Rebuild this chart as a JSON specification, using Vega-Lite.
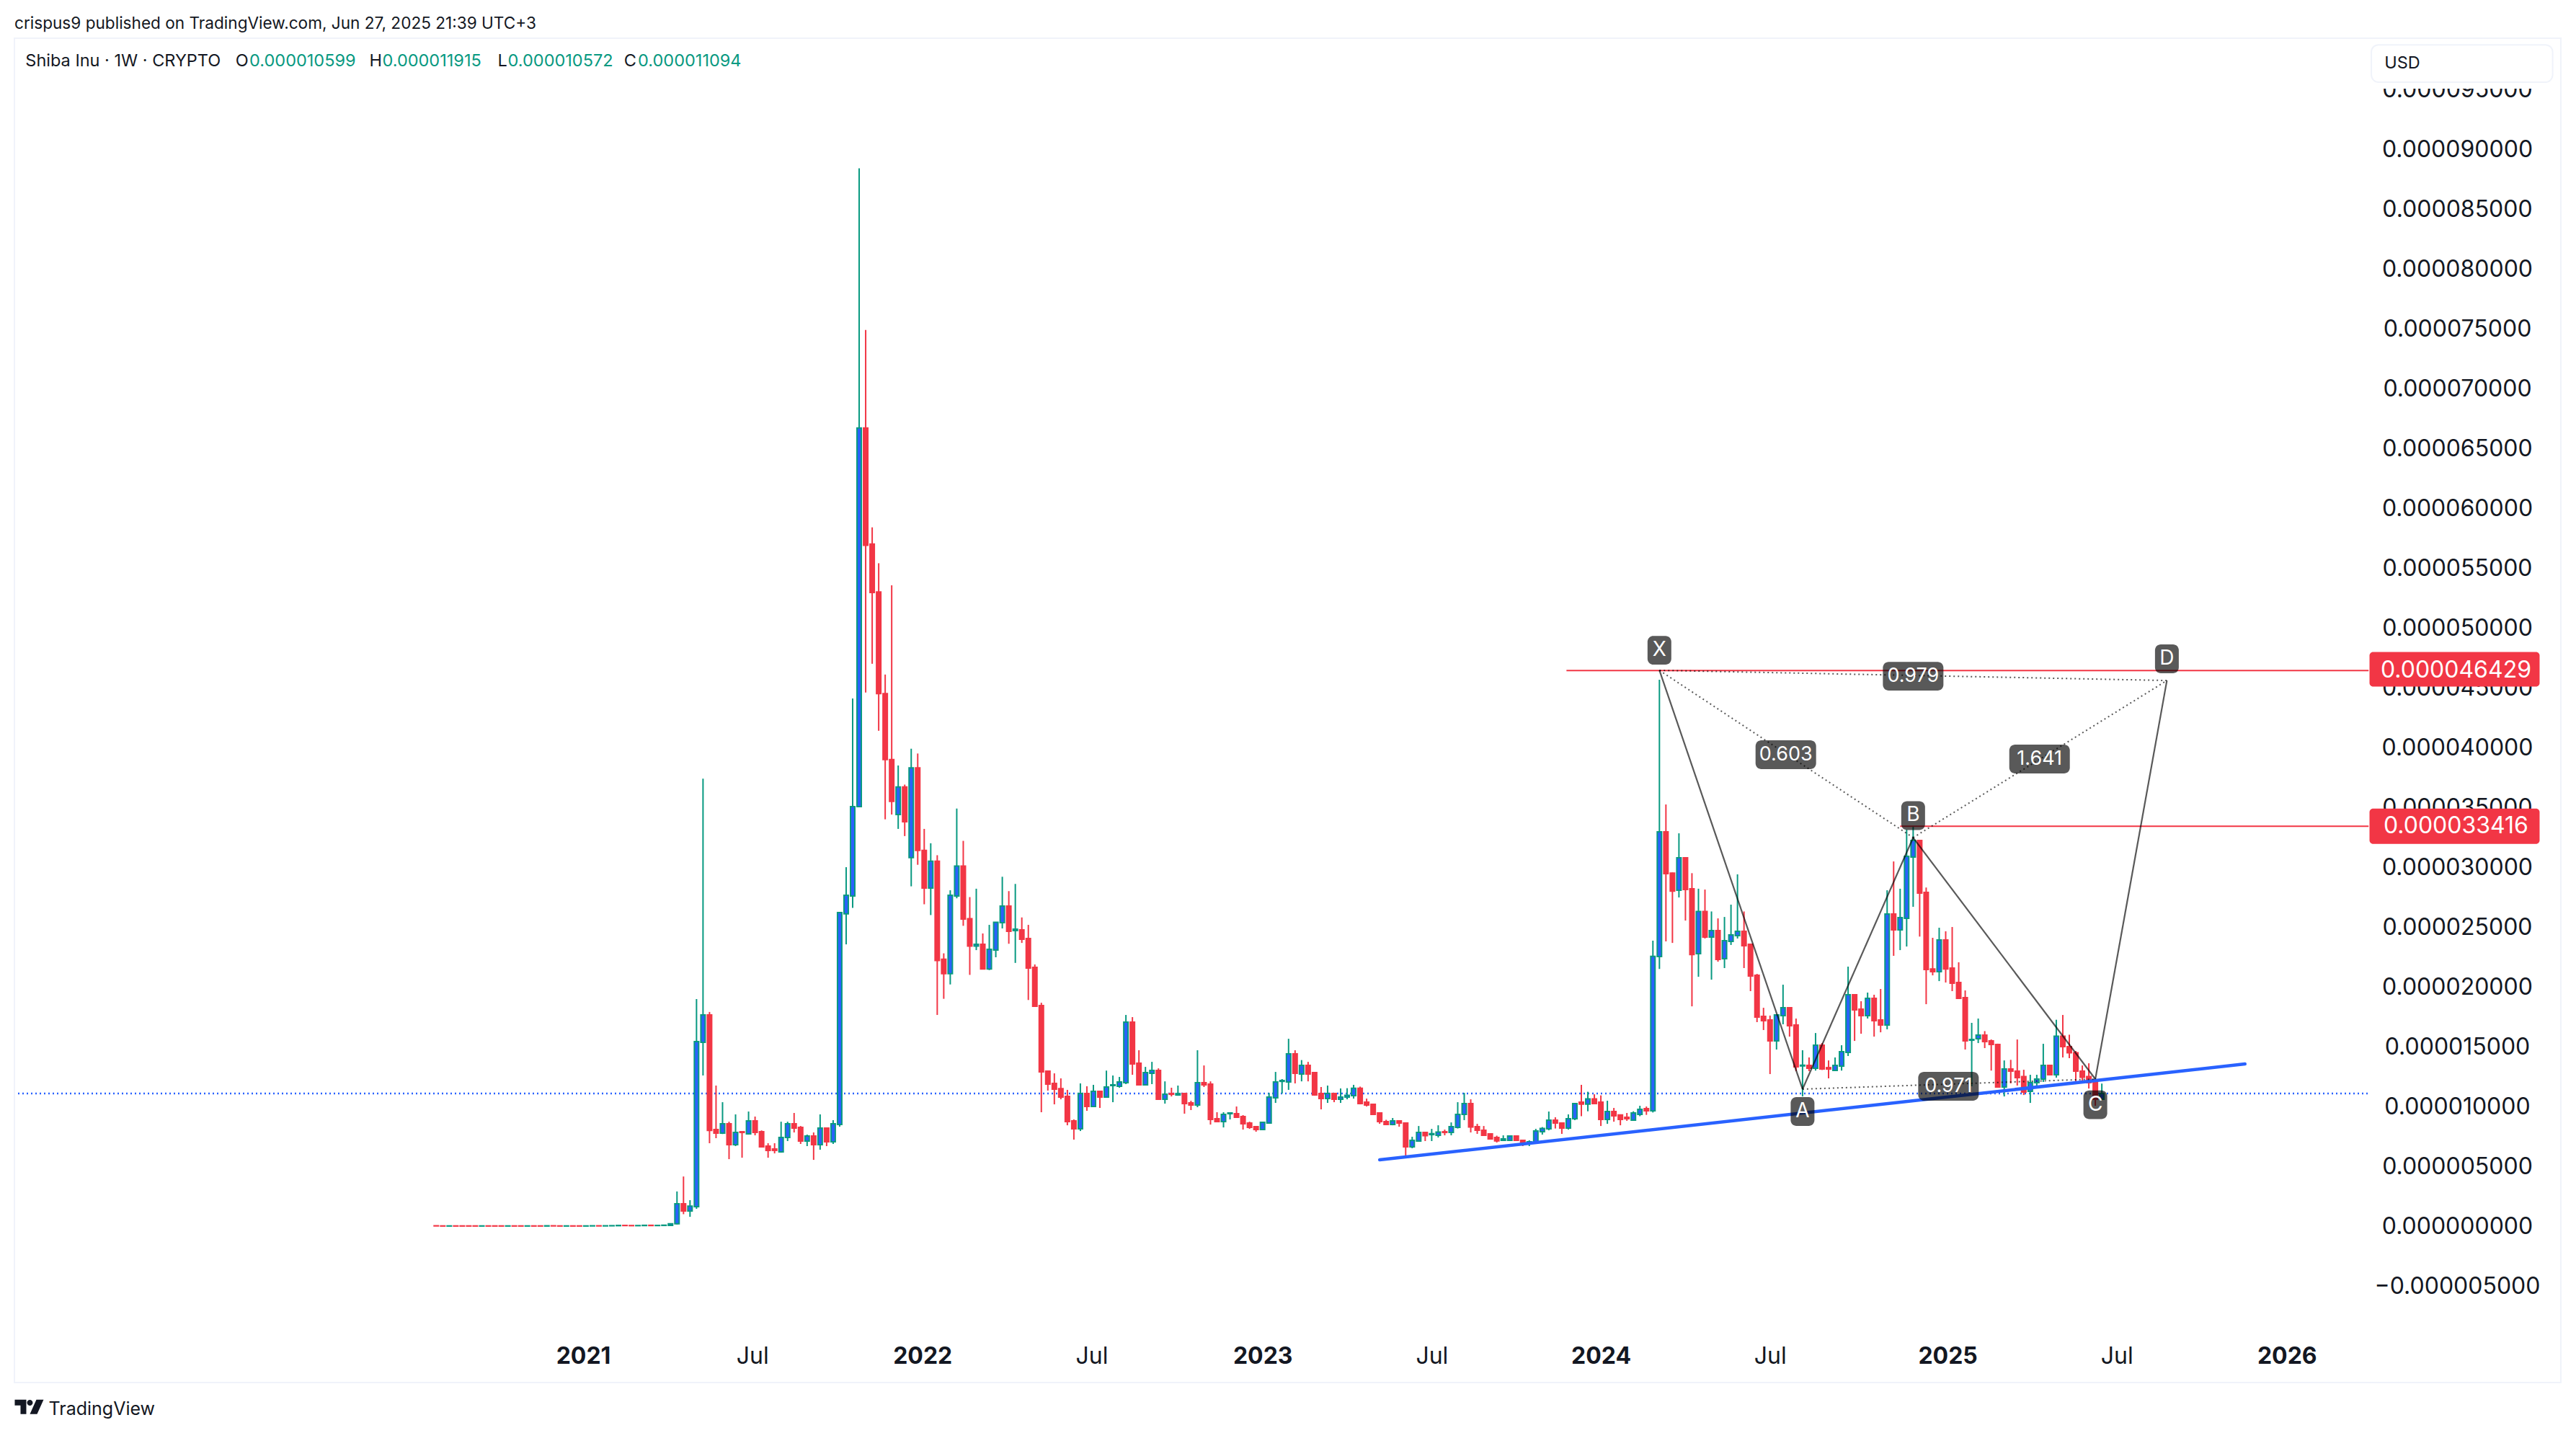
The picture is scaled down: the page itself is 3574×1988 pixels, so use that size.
{"$schema":"https://vega.github.io/schema/vega-lite/v6.json","width":3533,"height":1865,"autosize":{"type":"none"},"padding":{"left":20,"top":53,"right":21,"bottom":70},"background":"white","view":{"stroke":"#F0F3FA","strokeWidth":2},"config":{"font":"Inter"},
"title":{"text":"crispus9 published on TradingView.com, Jun 27, 2025 21:39 UTC+3","anchor":"start","frame":"group","font":"Inter","fontSize":22.6,"fontWeight":"normal","color":"#131722","offset":8},
"datasets":{
"candles":[
{"date":"2020-07-27","open":0.03e-6,"high":0.04e-6,"low":0.02e-6,"close":0.02e-6},
{"date":"2020-08-03","open":0.02e-6,"high":0.03e-6,"low":0.01e-6,"close":0.01e-6},
{"date":"2020-08-10","open":0.01e-6,"high":0.03e-6,"low":0.01e-6,"close":0.02e-6},
{"date":"2020-08-17","open":0.02e-6,"high":0.03e-6,"low":0.01e-6,"close":0.01e-6},
{"date":"2020-08-24","open":0.02e-6,"high":0.03e-6,"low":0.01e-6,"close":0.01e-6},
{"date":"2020-08-31","open":0.02e-6,"high":0.03e-6,"low":0.01e-6,"close":0.01e-6},
{"date":"2020-09-07","open":0.02e-6,"high":0.03e-6,"low":0.01e-6,"close":0.01e-6},
{"date":"2020-09-14","open":0.01e-6,"high":0.03e-6,"low":0.01e-6,"close":0.02e-6},
{"date":"2020-09-21","open":0.02e-6,"high":0.03e-6,"low":0.01e-6,"close":0.01e-6},
{"date":"2020-09-28","open":0.02e-6,"high":0.03e-6,"low":0.01e-6,"close":0.01e-6},
{"date":"2020-10-05","open":0.02e-6,"high":0.03e-6,"low":0.01e-6,"close":0.01e-6},
{"date":"2020-10-12","open":0.01e-6,"high":0.03e-6,"low":0.01e-6,"close":0.02e-6},
{"date":"2020-10-19","open":0.02e-6,"high":0.03e-6,"low":0.01e-6,"close":0.01e-6},
{"date":"2020-10-26","open":0.02e-6,"high":0.03e-6,"low":0.01e-6,"close":0.01e-6},
{"date":"2020-11-02","open":0.01e-6,"high":0.03e-6,"low":0.01e-6,"close":0.02e-6},
{"date":"2020-11-09","open":0.02e-6,"high":0.03e-6,"low":0.01e-6,"close":0.01e-6},
{"date":"2020-11-16","open":0.02e-6,"high":0.03e-6,"low":0.01e-6,"close":0.01e-6},
{"date":"2020-11-23","open":0.01e-6,"high":0.04e-6,"low":0.01e-6,"close":0.03e-6},
{"date":"2020-11-30","open":0.03e-6,"high":0.04e-6,"low":0.01e-6,"close":0.02e-6},
{"date":"2020-12-07","open":0.02e-6,"high":0.03e-6,"low":0.01e-6,"close":0.01e-6},
{"date":"2020-12-14","open":0.01e-6,"high":0.03e-6,"low":0.01e-6,"close":0.02e-6},
{"date":"2020-12-21","open":0.02e-6,"high":0.03e-6,"low":0.01e-6,"close":0.01e-6},
{"date":"2020-12-28","open":0.02e-6,"high":0.03e-6,"low":0.01e-6,"close":0.01e-6},
{"date":"2021-01-04","open":0.01e-6,"high":0.03e-6,"low":0.01e-6,"close":0.02e-6},
{"date":"2021-01-11","open":0.02e-6,"high":0.04e-6,"low":0.01e-6,"close":0.03e-6},
{"date":"2021-01-18","open":0.03e-6,"high":0.04e-6,"low":0.01e-6,"close":0.02e-6},
{"date":"2021-01-25","open":0.02e-6,"high":0.04e-6,"low":0.01e-6,"close":0.03e-6},
{"date":"2021-02-01","open":0.03e-6,"high":0.05e-6,"low":0.02e-6,"close":0.04e-6},
{"date":"2021-02-08","open":0.04e-6,"high":0.08e-6,"low":0.03e-6,"close":0.06e-6},
{"date":"2021-02-15","open":0.06e-6,"high":0.09e-6,"low":0.04e-6,"close":0.05e-6},
{"date":"2021-02-22","open":0.05e-6,"high":0.07e-6,"low":0.03e-6,"close":0.04e-6},
{"date":"2021-03-01","open":0.04e-6,"high":0.06e-6,"low":0.03e-6,"close":0.05e-6},
{"date":"2021-03-08","open":0.05e-6,"high":0.08e-6,"low":0.04e-6,"close":0.07e-6},
{"date":"2021-03-15","open":0.07e-6,"high":0.08e-6,"low":0.04e-6,"close":0.05e-6},
{"date":"2021-03-22","open":0.05e-6,"high":0.07e-6,"low":0.03e-6,"close":0.06e-6},
{"date":"2021-03-29","open":0.06e-6,"high":0.1e-6,"low":0.05e-6,"close":0.08e-6},
{"date":"2021-04-05","open":0.06e-6,"high":0.2e-6,"low":0.05e-6,"close":0.2e-6},
{"date":"2021-04-12","open":0.2e-6,"high":2.9e-6,"low":0.15e-6,"close":1.87e-6},
{"date":"2021-04-19","open":1.87e-6,"high":4.15e-6,"low":1.0e-6,"close":1.27e-6},
{"date":"2021-04-26","open":1.27e-6,"high":2.17e-6,"low":0.78e-6,"close":1.68e-6},
{"date":"2021-05-03","open":1.63e-6,"high":18.98e-6,"low":1.45e-6,"close":15.42e-6},
{"date":"2021-05-10","open":15.36e-6,"high":37.4e-6,"low":12.6e-6,"close":17.65e-6},
{"date":"2021-05-17","open":17.65e-6,"high":17.9e-6,"low":6.93e-6,"close":8.0e-6},
{"date":"2021-05-24","open":8.07e-6,"high":11.75e-6,"low":7.35e-6,"close":7.77e-6},
{"date":"2021-05-31","open":7.77e-6,"high":10.36e-6,"low":7.7e-6,"close":8.55e-6},
{"date":"2021-06-07","open":8.55e-6,"high":8.73e-6,"low":5.6e-6,"close":6.81e-6},
{"date":"2021-06-14","open":6.81e-6,"high":9.34e-6,"low":6.69e-6,"close":7.83e-6},
{"date":"2021-06-21","open":7.89e-6,"high":7.89e-6,"low":5.72e-6,"close":7.83e-6},
{"date":"2021-06-28","open":7.71e-6,"high":9.58e-6,"low":7.65e-6,"close":8.8e-6},
{"date":"2021-07-05","open":8.8e-6,"high":9.16e-6,"low":7.59e-6,"close":7.83e-6},
{"date":"2021-07-12","open":7.89e-6,"high":8.0e-6,"low":6.57e-6,"close":6.63e-6},
{"date":"2021-07-19","open":6.69e-6,"high":6.93e-6,"low":5.72e-6,"close":6.33e-6},
{"date":"2021-07-26","open":6.45e-6,"high":6.93e-6,"low":6.08e-6,"close":6.33e-6},
{"date":"2021-08-02","open":6.2e-6,"high":8.73e-6,"low":6.14e-6,"close":7.41e-6},
{"date":"2021-08-09","open":7.41e-6,"high":8.73e-6,"low":7.11e-6,"close":8.55e-6},
{"date":"2021-08-16","open":8.55e-6,"high":9.46e-6,"low":7.83e-6,"close":8.19e-6},
{"date":"2021-08-23","open":8.25e-6,"high":8.37e-6,"low":6.87e-6,"close":7.11e-6},
{"date":"2021-08-30","open":7.11e-6,"high":7.65e-6,"low":6.69e-6,"close":7.53e-6},
{"date":"2021-09-06","open":7.53e-6,"high":7.83e-6,"low":5.54e-6,"close":6.81e-6},
{"date":"2021-09-13","open":6.81e-6,"high":9.34e-6,"low":6.39e-6,"close":8.19e-6},
{"date":"2021-09-20","open":8.19e-6,"high":8.19e-6,"low":6.69e-6,"close":7.05e-6},
{"date":"2021-09-27","open":7.05e-6,"high":8.86e-6,"low":6.87e-6,"close":8.55e-6},
{"date":"2021-10-04","open":8.49e-6,"high":26.2e-6,"low":8.31e-6,"close":26.2e-6},
{"date":"2021-10-11","open":26.1e-6,"high":30.0e-6,"low":23.55e-6,"close":27.65e-6},
{"date":"2021-10-18","open":27.6e-6,"high":44.1e-6,"low":26.6e-6,"close":35.06e-6},
{"date":"2021-10-25","open":35.06e-6,"high":88.4e-6,"low":35.0e-6,"close":66.7e-6},
{"date":"2021-11-01","open":66.7e-6,"high":74.9e-6,"low":44.6e-6,"close":56.9e-6},
{"date":"2021-11-08","open":57.0e-6,"high":58.4e-6,"low":47.0e-6,"close":52.95e-6},
{"date":"2021-11-15","open":53.0e-6,"high":55.4e-6,"low":41.4e-6,"close":44.5e-6},
{"date":"2021-11-22","open":44.5e-6,"high":46.1e-6,"low":34.0e-6,"close":39.0e-6},
{"date":"2021-11-29","open":39.0e-6,"high":53.55e-6,"low":34.4e-6,"close":35.5e-6},
{"date":"2021-12-06","open":34.4e-6,"high":38.5e-6,"low":33.2e-6,"close":36.7e-6},
{"date":"2021-12-13","open":36.7e-6,"high":36.9e-6,"low":32.6e-6,"close":33.8e-6},
{"date":"2021-12-20","open":30.8e-6,"high":39.9e-6,"low":28.4e-6,"close":38.3e-6},
{"date":"2021-12-27","open":38.3e-6,"high":39.5e-6,"low":30.2e-6,"close":31.4e-6},
{"date":"2022-01-03","open":31.4e-6,"high":33.2e-6,"low":26.9e-6,"close":28.25e-6},
{"date":"2022-01-10","open":28.25e-6,"high":32.0e-6,"low":26.0e-6,"close":30.5e-6},
{"date":"2022-01-17","open":30.5e-6,"high":31.0e-6,"low":17.65e-6,"close":22.2e-6},
{"date":"2022-01-24","open":22.3e-6,"high":22.8e-6,"low":19.0e-6,"close":21.1e-6},
{"date":"2022-01-31","open":21.1e-6,"high":28.07e-6,"low":20.2e-6,"close":27.65e-6},
{"date":"2022-02-07","open":27.6e-6,"high":34.9e-6,"low":27.4e-6,"close":30.1e-6},
{"date":"2022-02-14","open":30.1e-6,"high":32.2e-6,"low":25.1e-6,"close":25.66e-6},
{"date":"2022-02-21","open":25.7e-6,"high":27.5e-6,"low":21.0e-6,"close":23.4e-6},
{"date":"2022-02-28","open":23.4e-6,"high":28.2e-6,"low":23.07e-6,"close":23.55e-6},
{"date":"2022-03-07","open":23.55e-6,"high":24.46e-6,"low":21.45e-6,"close":21.5e-6},
{"date":"2022-03-14","open":21.5e-6,"high":25.18e-6,"low":21.4e-6,"close":23.13e-6},
{"date":"2022-03-21","open":23.07e-6,"high":25.4e-6,"low":22.47e-6,"close":25.4e-6},
{"date":"2022-03-28","open":25.36e-6,"high":29.2e-6,"low":24.88e-6,"close":26.75e-6},
{"date":"2022-04-04","open":26.75e-6,"high":28.0e-6,"low":23.6e-6,"close":24.64e-6},
{"date":"2022-04-11","open":24.7e-6,"high":28.6e-6,"low":22.0e-6,"close":24.82e-6},
{"date":"2022-04-18","open":24.76e-6,"high":25.8e-6,"low":23.67e-6,"close":23.98e-6},
{"date":"2022-04-25","open":24.04e-6,"high":25.18e-6,"low":18.9e-6,"close":21.57e-6},
{"date":"2022-05-02","open":21.63e-6,"high":21.87e-6,"low":18.37e-6,"close":18.37e-6},
{"date":"2022-05-09","open":18.43e-6,"high":18.67e-6,"low":9.52e-6,"close":12.89e-6},
{"date":"2022-05-16","open":12.95e-6,"high":13.0e-6,"low":11.33e-6,"close":11.87e-6},
{"date":"2022-05-23","open":11.93e-6,"high":12.77e-6,"low":10.18e-6,"close":11.45e-6},
{"date":"2022-05-30","open":11.5e-6,"high":12.35e-6,"low":10.6e-6,"close":10.78e-6},
{"date":"2022-06-06","open":10.84e-6,"high":11.39e-6,"low":8.43e-6,"close":8.73e-6},
{"date":"2022-06-13","open":8.8e-6,"high":8.92e-6,"low":7.23e-6,"close":8.13e-6},
{"date":"2022-06-20","open":8.13e-6,"high":11.93e-6,"low":7.95e-6,"close":11.08e-6},
{"date":"2022-06-27","open":11.08e-6,"high":11.69e-6,"low":9.64e-6,"close":10.0e-6},
{"date":"2022-07-04","open":10.0e-6,"high":11.81e-6,"low":10.0e-6,"close":11.27e-6},
{"date":"2022-07-11","open":11.27e-6,"high":11.27e-6,"low":9.88e-6,"close":10.78e-6},
{"date":"2022-07-18","open":10.78e-6,"high":13.0e-6,"low":10.78e-6,"close":11.63e-6},
{"date":"2022-07-25","open":11.75e-6,"high":12.59e-6,"low":10.36e-6,"close":11.81e-6},
{"date":"2022-08-01","open":11.69e-6,"high":12.47e-6,"low":11.57e-6,"close":12.05e-6},
{"date":"2022-08-08","open":11.99e-6,"high":17.65e-6,"low":11.87e-6,"close":17.05e-6},
{"date":"2022-08-15","open":17.05e-6,"high":17.47e-6,"low":12.65e-6,"close":13.55e-6},
{"date":"2022-08-22","open":13.61e-6,"high":14.7e-6,"low":11.81e-6,"close":11.81e-6},
{"date":"2022-08-29","open":11.81e-6,"high":13.31e-6,"low":11.81e-6,"close":12.83e-6},
{"date":"2022-09-05","open":12.77e-6,"high":13.73e-6,"low":11.87e-6,"close":13.01e-6},
{"date":"2022-09-12","open":13.01e-6,"high":13.19e-6,"low":10.6e-6,"close":10.6e-6},
{"date":"2022-09-19","open":10.6e-6,"high":12.1e-6,"low":10.24e-6,"close":11.02e-6},
{"date":"2022-09-26","open":11.08e-6,"high":11.57e-6,"low":10.84e-6,"close":11.02e-6},
{"date":"2022-10-03","open":10.96e-6,"high":11.75e-6,"low":10.9e-6,"close":11.08e-6},
{"date":"2022-10-10","open":11.08e-6,"high":11.08e-6,"low":9.4e-6,"close":10.24e-6},
{"date":"2022-10-17","open":10.3e-6,"high":10.48e-6,"low":9.7e-6,"close":10.12e-6},
{"date":"2022-10-24","open":10.12e-6,"high":14.7e-6,"low":9.94e-6,"close":11.99e-6},
{"date":"2022-10-31","open":11.99e-6,"high":13.43e-6,"low":11.63e-6,"close":11.81e-6},
{"date":"2022-11-07","open":11.87e-6,"high":12.1e-6,"low":8.49e-6,"close":8.92e-6},
{"date":"2022-11-14","open":8.98e-6,"high":9.52e-6,"low":8.73e-6,"close":8.73e-6},
{"date":"2022-11-21","open":8.73e-6,"high":9.52e-6,"low":8.25e-6,"close":9.34e-6},
{"date":"2022-11-28","open":9.4e-6,"high":9.46e-6,"low":8.92e-6,"close":9.46e-6},
{"date":"2022-12-05","open":9.4e-6,"high":10.0e-6,"low":9.04e-6,"close":9.1e-6},
{"date":"2022-12-12","open":9.16e-6,"high":9.28e-6,"low":8.07e-6,"close":8.55e-6},
{"date":"2022-12-19","open":8.61e-6,"high":8.73e-6,"low":8.13e-6,"close":8.25e-6},
{"date":"2022-12-26","open":8.31e-6,"high":8.37e-6,"low":7.89e-6,"close":8.07e-6},
{"date":"2023-01-02","open":8.07e-6,"high":8.73e-6,"low":8.07e-6,"close":8.67e-6},
{"date":"2023-01-09","open":8.61e-6,"high":11.14e-6,"low":8.61e-6,"close":10.78e-6},
{"date":"2023-01-16","open":10.72e-6,"high":12.89e-6,"low":10.3e-6,"close":12.05e-6},
{"date":"2023-01-23","open":12.1e-6,"high":12.29e-6,"low":11.08e-6,"close":12.17e-6},
{"date":"2023-01-30","open":12.05e-6,"high":15.66e-6,"low":11.39e-6,"close":14.4e-6},
{"date":"2023-02-06","open":14.4e-6,"high":14.7e-6,"low":11.93e-6,"close":12.77e-6},
{"date":"2023-02-13","open":12.71e-6,"high":13.88e-6,"low":12.1e-6,"close":13.43e-6},
{"date":"2023-02-20","open":13.43e-6,"high":13.73e-6,"low":12.1e-6,"close":12.71e-6},
{"date":"2023-02-27","open":12.83e-6,"high":12.85e-6,"low":10.9e-6,"close":10.96e-6},
{"date":"2023-03-06","open":11.08e-6,"high":11.63e-6,"low":9.76e-6,"close":10.66e-6},
{"date":"2023-03-13","open":10.66e-6,"high":11.75e-6,"low":10.3e-6,"close":11.08e-6},
{"date":"2023-03-20","open":11.08e-6,"high":11.1e-6,"low":10.36e-6,"close":10.6e-6},
{"date":"2023-03-27","open":10.6e-6,"high":11.51e-6,"low":10.3e-6,"close":10.78e-6},
{"date":"2023-04-03","open":10.78e-6,"high":11.53e-6,"low":10.6e-6,"close":10.93e-6},
{"date":"2023-04-10","open":10.9e-6,"high":11.81e-6,"low":10.66e-6,"close":11.53e-6},
{"date":"2023-04-17","open":11.53e-6,"high":11.66e-6,"low":10.18e-6,"close":10.24e-6},
{"date":"2023-04-24","open":10.36e-6,"high":10.66e-6,"low":10.0e-6,"close":10.12e-6},
{"date":"2023-05-01","open":10.18e-6,"high":10.18e-6,"low":9.34e-6,"close":9.34e-6},
{"date":"2023-05-08","open":9.46e-6,"high":9.46e-6,"low":8.55e-6,"close":8.73e-6},
{"date":"2023-05-15","open":8.73e-6,"high":8.89e-6,"low":8.49e-6,"close":8.49e-6},
{"date":"2023-05-22","open":8.49e-6,"high":9.04e-6,"low":8.43e-6,"close":8.8e-6},
{"date":"2023-05-29","open":8.8e-6,"high":8.85e-6,"low":8.31e-6,"close":8.61e-6},
{"date":"2023-06-05","open":8.61e-6,"high":8.61e-6,"low":5.78e-6,"close":6.63e-6},
{"date":"2023-06-12","open":6.63e-6,"high":7.47e-6,"low":6.51e-6,"close":7.17e-6},
{"date":"2023-06-19","open":7.11e-6,"high":8.37e-6,"low":7.05e-6,"close":7.83e-6},
{"date":"2023-06-26","open":7.83e-6,"high":7.83e-6,"low":7.11e-6,"close":7.56e-6},
{"date":"2023-07-03","open":7.65e-6,"high":8.13e-6,"low":7.11e-6,"close":7.73e-6},
{"date":"2023-07-10","open":7.59e-6,"high":8.43e-6,"low":7.41e-6,"close":7.86e-6},
{"date":"2023-07-17","open":7.89e-6,"high":8.07e-6,"low":7.59e-6,"close":7.83e-6},
{"date":"2023-07-24","open":7.83e-6,"high":8.67e-6,"low":7.59e-6,"close":8.31e-6},
{"date":"2023-07-31","open":8.25e-6,"high":10.36e-6,"low":8.16e-6,"close":9.34e-6},
{"date":"2023-08-07","open":9.34e-6,"high":11.14e-6,"low":8.86e-6,"close":10.24e-6},
{"date":"2023-08-14","open":10.24e-6,"high":10.6e-6,"low":7.83e-6,"close":8.28e-6},
{"date":"2023-08-21","open":8.31e-6,"high":8.55e-6,"low":7.71e-6,"close":8.01e-6},
{"date":"2023-08-28","open":8.01e-6,"high":8.37e-6,"low":7.59e-6,"close":7.59e-6},
{"date":"2023-09-04","open":7.71e-6,"high":7.73e-6,"low":7.25e-6,"close":7.29e-6},
{"date":"2023-09-11","open":7.41e-6,"high":7.56e-6,"low":6.99e-6,"close":7.13e-6},
{"date":"2023-09-18","open":7.17e-6,"high":7.59e-6,"low":7.15e-6,"close":7.29e-6},
{"date":"2023-09-25","open":7.17e-6,"high":7.56e-6,"low":7.15e-6,"close":7.53e-6},
{"date":"2023-10-02","open":7.53e-6,"high":7.56e-6,"low":7.15e-6,"close":7.17e-6},
{"date":"2023-10-09","open":7.17e-6,"high":7.17e-6,"low":6.69e-6,"close":6.87e-6},
{"date":"2023-10-16","open":6.96e-6,"high":7.17e-6,"low":6.69e-6,"close":7.05e-6},
{"date":"2023-10-23","open":6.99e-6,"high":8.13e-6,"low":6.99e-6,"close":7.95e-6},
{"date":"2023-10-30","open":7.89e-6,"high":8.28e-6,"low":7.65e-6,"close":8.16e-6},
{"date":"2023-11-06","open":8.13e-6,"high":9.58e-6,"low":8.01e-6,"close":8.86e-6},
{"date":"2023-11-13","open":8.86e-6,"high":9.1e-6,"low":8.16e-6,"close":8.61e-6},
{"date":"2023-11-20","open":8.61e-6,"high":8.63e-6,"low":7.71e-6,"close":8.19e-6},
{"date":"2023-11-27","open":8.19e-6,"high":9.34e-6,"low":8.07e-6,"close":8.98e-6},
{"date":"2023-12-04","open":8.98e-6,"high":10.26e-6,"low":8.86e-6,"close":10.24e-6},
{"date":"2023-12-11","open":10.36e-6,"high":11.81e-6,"low":9.19e-6,"close":10.2e-6},
{"date":"2023-12-18","open":10.2e-6,"high":11.23e-6,"low":9.6e-6,"close":10.63e-6},
{"date":"2023-12-25","open":10.63e-6,"high":11.02e-6,"low":10.24e-6,"close":10.24e-6},
{"date":"2024-01-01","open":10.36e-6,"high":10.93e-6,"low":8.37e-6,"close":8.92e-6},
{"date":"2024-01-08","open":8.92e-6,"high":10.48e-6,"low":8.55e-6,"close":9.58e-6},
{"date":"2024-01-15","open":9.58e-6,"high":9.88e-6,"low":8.73e-6,"close":9.22e-6},
{"date":"2024-01-22","open":9.3e-6,"high":9.32e-6,"low":8.43e-6,"close":8.92e-6},
{"date":"2024-01-29","open":9.1e-6,"high":9.46e-6,"low":8.8e-6,"close":8.98e-6},
{"date":"2024-02-05","open":8.86e-6,"high":9.6e-6,"low":8.8e-6,"close":9.46e-6},
{"date":"2024-02-12","open":9.34e-6,"high":10.06e-6,"low":9.19e-6,"close":9.76e-6},
{"date":"2024-02-19","open":9.82e-6,"high":10.0e-6,"low":9.3e-6,"close":9.64e-6},
{"date":"2024-02-26","open":9.64e-6,"high":23.86e-6,"low":9.5e-6,"close":22.55e-6},
{"date":"2024-03-04","open":22.53e-6,"high":45.66e-6,"low":21.5e-6,"close":32.95e-6},
{"date":"2024-03-11","open":32.95e-6,"high":35.24e-6,"low":23.8e-6,"close":29.46e-6},
{"date":"2024-03-18","open":29.5e-6,"high":29.55e-6,"low":23.67e-6,"close":28.0e-6},
{"date":"2024-03-25","open":28.07e-6,"high":32.83e-6,"low":27.47e-6,"close":30.78e-6},
{"date":"2024-04-01","open":30.78e-6,"high":30.8e-6,"low":25.54e-6,"close":28.13e-6},
{"date":"2024-04-08","open":28.2e-6,"high":29.5e-6,"low":18.37e-6,"close":22.7e-6},
{"date":"2024-04-15","open":22.77e-6,"high":28.2e-6,"low":20.84e-6,"close":26.3e-6},
{"date":"2024-04-22","open":26.3e-6,"high":28.13e-6,"low":24.04e-6,"close":24.16e-6},
{"date":"2024-04-29","open":24.16e-6,"high":26.3e-6,"low":20.6e-6,"close":24.7e-6},
{"date":"2024-05-06","open":24.7e-6,"high":25.72e-6,"low":22.1e-6,"close":22.29e-6},
{"date":"2024-05-13","open":22.35e-6,"high":25.84e-6,"low":21.57e-6,"close":23.86e-6},
{"date":"2024-05-20","open":23.8e-6,"high":26.87e-6,"low":23.5e-6,"close":24.34e-6},
{"date":"2024-05-27","open":24.28e-6,"high":29.4e-6,"low":24.04e-6,"close":24.64e-6},
{"date":"2024-06-03","open":24.64e-6,"high":26.3e-6,"low":21.57e-6,"close":23.43e-6},
{"date":"2024-06-10","open":23.55e-6,"high":23.6e-6,"low":19.64e-6,"close":20.9e-6},
{"date":"2024-06-17","open":20.96e-6,"high":21.08e-6,"low":17.05e-6,"close":17.47e-6},
{"date":"2024-06-24","open":17.53e-6,"high":18.25e-6,"low":16.39e-6,"close":17.17e-6},
{"date":"2024-07-01","open":17.23e-6,"high":17.6e-6,"low":12.71e-6,"close":15.48e-6},
{"date":"2024-07-08","open":15.48e-6,"high":17.65e-6,"low":14.76e-6,"close":17.65e-6},
{"date":"2024-07-15","open":17.6e-6,"high":20.18e-6,"low":16.87e-6,"close":18.25e-6},
{"date":"2024-07-22","open":18.25e-6,"high":18.3e-6,"low":15.84e-6,"close":16.75e-6},
{"date":"2024-07-29","open":16.81e-6,"high":17.35e-6,"low":12.95e-6,"close":13.31e-6},
{"date":"2024-08-05","open":13.39e-6,"high":14.7e-6,"low":10.84e-6,"close":13.45e-6},
{"date":"2024-08-12","open":13.43e-6,"high":14.1e-6,"low":12.95e-6,"close":13.19e-6},
{"date":"2024-08-19","open":13.19e-6,"high":16.14e-6,"low":13.0e-6,"close":15.12e-6},
{"date":"2024-08-26","open":15.12e-6,"high":15.3e-6,"low":13.05e-6,"close":13.13e-6},
{"date":"2024-09-02","open":13.25e-6,"high":13.85e-6,"low":12.35e-6,"close":13.13e-6},
{"date":"2024-09-09","open":13.01e-6,"high":14.1e-6,"low":13.0e-6,"close":13.43e-6},
{"date":"2024-09-16","open":13.37e-6,"high":15.12e-6,"low":13.0e-6,"close":14.58e-6},
{"date":"2024-09-23","open":14.52e-6,"high":21.69e-6,"low":14.22e-6,"close":19.34e-6},
{"date":"2024-09-30","open":19.34e-6,"high":19.4e-6,"low":15.48e-6,"close":18.07e-6},
{"date":"2024-10-07","open":18.13e-6,"high":18.8e-6,"low":16.08e-6,"close":17.6e-6},
{"date":"2024-10-14","open":17.6e-6,"high":19.52e-6,"low":17.35e-6,"close":19.04e-6},
{"date":"2024-10-21","open":19.04e-6,"high":19.34e-6,"low":15.84e-6,"close":17.17e-6},
{"date":"2024-10-28","open":17.23e-6,"high":19.82e-6,"low":16.2e-6,"close":16.81e-6},
{"date":"2024-11-04","open":16.81e-6,"high":28.07e-6,"low":16.45e-6,"close":26.08e-6},
{"date":"2024-11-11","open":26.08e-6,"high":30.48e-6,"low":22.59e-6,"close":24.76e-6},
{"date":"2024-11-18","open":24.76e-6,"high":28.2e-6,"low":23.07e-6,"close":25.78e-6},
{"date":"2024-11-25","open":25.72e-6,"high":33.13e-6,"low":23.37e-6,"close":30.9e-6},
{"date":"2024-12-02","open":30.84e-6,"high":33.43e-6,"low":26.69e-6,"close":32.23e-6},
{"date":"2024-12-09","open":32.23e-6,"high":32.25e-6,"low":24.2e-6,"close":27.83e-6},
{"date":"2024-12-16","open":27.9e-6,"high":28.3e-6,"low":18.55e-6,"close":21.45e-6},
{"date":"2024-12-23","open":21.5e-6,"high":24.1e-6,"low":20.96e-6,"close":21.27e-6},
{"date":"2024-12-30","open":21.27e-6,"high":24.94e-6,"low":20.48e-6,"close":23.92e-6},
{"date":"2025-01-06","open":23.92e-6,"high":24.64e-6,"low":20.36e-6,"close":21.5e-6},
{"date":"2025-01-13","open":21.57e-6,"high":25.0e-6,"low":19.64e-6,"close":20.3e-6},
{"date":"2025-01-20","open":20.36e-6,"high":22.05e-6,"low":19.04e-6,"close":19.04e-6},
{"date":"2025-01-27","open":19.1e-6,"high":19.7e-6,"low":14.76e-6,"close":15.48e-6},
{"date":"2025-02-03","open":15.54e-6,"high":16.99e-6,"low":11.69e-6,"close":15.6e-6},
{"date":"2025-02-10","open":15.66e-6,"high":17.35e-6,"low":15.3e-6,"close":15.96e-6},
{"date":"2025-02-17","open":15.96e-6,"high":16.3e-6,"low":14.88e-6,"close":15.42e-6},
{"date":"2025-02-24","open":15.48e-6,"high":15.6e-6,"low":13.0e-6,"close":15.18e-6},
{"date":"2025-03-03","open":15.18e-6,"high":15.25e-6,"low":11.58e-6,"close":11.63e-6},
{"date":"2025-03-10","open":11.63e-6,"high":13.85e-6,"low":10.84e-6,"close":13.13e-6},
{"date":"2025-03-17","open":13.13e-6,"high":13.9e-6,"low":11.93e-6,"close":12.95e-6},
{"date":"2025-03-24","open":12.95e-6,"high":15.6e-6,"low":11.75e-6,"close":12.41e-6},
{"date":"2025-03-31","open":12.5e-6,"high":13.07e-6,"low":10.96e-6,"close":11.2e-6},
{"date":"2025-04-07","open":11.27e-6,"high":12.65e-6,"low":10.3e-6,"close":11.99e-6},
{"date":"2025-04-14","open":11.99e-6,"high":12.65e-6,"low":11.57e-6,"close":12.29e-6},
{"date":"2025-04-21","open":12.29e-6,"high":15.24e-6,"low":12.05e-6,"close":13.43e-6},
{"date":"2025-04-28","open":13.43e-6,"high":13.45e-6,"low":12.65e-6,"close":12.65e-6},
{"date":"2025-05-05","open":12.65e-6,"high":17.25e-6,"low":12.41e-6,"close":15.87e-6},
{"date":"2025-05-12","open":15.87e-6,"high":17.65e-6,"low":14.1e-6,"close":15.0e-6},
{"date":"2025-05-19","open":15.0e-6,"high":16.0e-6,"low":14.04e-6,"close":14.49e-6},
{"date":"2025-05-26","open":14.49e-6,"high":14.64e-6,"low":12.05e-6,"close":12.95e-6},
{"date":"2025-06-02","open":12.95e-6,"high":13.43e-6,"low":11.99e-6,"close":12.44e-6},
{"date":"2025-06-09","open":12.5e-6,"high":13.61e-6,"low":11.5e-6,"close":11.99e-6},
{"date":"2025-06-16","open":12.23e-6,"high":12.3e-6,"low":10.06e-6,"close":10.6e-6},
{"date":"2025-06-23","open":10.599e-6,"high":11.915e-6,"low":10.572e-6,"close":11.094e-6}
],
"lastPrice":[{"date":"2019-05-04","date2":"2026-04-06","price":11.094e-6}],
"trend":[{"date":"2023-05-08","date2":"2025-11-24","price":5.54e-6,"price2":13.55e-6}],
"levels":[{"date":"2023-11-25","date2":"2026-04-06","price":46.429e-6},{"date":"2024-11-18","date2":"2026-04-06","price":33.416e-6}],
"legs":[
{"date":"2024-03-04","price":46.45e-6,"date2":"2024-08-05","price2":11.45e-6},
{"date":"2024-08-05","price":11.45e-6,"date2":"2024-12-02","price2":32.47e-6},
{"date":"2024-12-02","price":32.47e-6,"date2":"2025-06-16","price2":12.29e-6},
{"date":"2025-06-16","price":12.29e-6,"date2":"2025-09-01","price2":45.6e-6}],
"ratioLines":[
{"date":"2024-03-04","price":46.45e-6,"date2":"2024-12-02","price2":32.47e-6},
{"date":"2024-12-02","price":32.47e-6,"date2":"2025-09-01","price2":45.6e-6},
{"date":"2024-03-04","price":46.45e-6,"date2":"2025-09-01","price2":45.6e-6},
{"date":"2024-08-05","price":11.45e-6,"date2":"2025-06-16","price2":12.29e-6}],
"pointLabels":[
{"label":"X","date":"2024-03-04","price":48.13e-6,"top":49.33e-6,"bottom":46.93e-6},
{"label":"A","date":"2024-08-05","price":9.58e-6,"top":10.78e-6,"bottom":8.38e-6},
{"label":"B","date":"2024-12-02","price":34.31e-6,"top":35.51e-6,"bottom":33.11e-6},
{"label":"C","date":"2025-06-16","price":10.15e-6,"top":11.35e-6,"bottom":8.95e-6},
{"label":"D","date":"2025-09-01","price":47.41e-6,"top":48.61e-6,"bottom":46.21e-6}],
"ratioLabels":[
{"label":"0.979","date":"2024-12-02","price":45.96e-6,"top":47.16e-6,"bottom":44.76e-6},
{"label":"0.603","date":"2024-07-18","price":39.4e-6,"top":40.6e-6,"bottom":38.2e-6},
{"label":"1.641","date":"2025-04-17","price":39.04e-6,"top":40.24e-6,"bottom":37.84e-6},
{"label":"0.971","date":"2025-01-09","price":11.69e-6,"top":12.89e-6,"bottom":10.49e-6}],
"priceTags":[
{"label":"0.000046429","date":"2026-04-07","date2":"2026-10-07","mid":"2026-07-09","price":47.98e-6,"price2":45.09e-6,"value":46.429e-6},
{"label":"0.000033416","date":"2026-04-07","date2":"2026-10-07","mid":"2026-07-09","price":34.9e-6,"price2":31.95e-6,"value":33.416e-6}],
"usdCover":[{"date":"2026-04-09","date2":"2026-10-21","price":99.2e-6,"price2":95.06e-6}],
"usdBox":[{"date":"2026-04-09","date2":"2026-10-21","price":98.73e-6,"price2":95.6e-6}],
"darkText":[
{"label":"Shiba Inu · 1W · CRYPTO","date":"2019-05-12","price":97.35e-6},
{"label":"O","date":"2019-12-24","price":97.35e-6},
{"label":"H","date":"2020-05-16","price":97.35e-6},
{"label":"L","date":"2020-10-01","price":97.35e-6},
{"label":"C","date":"2021-02-14","price":97.35e-6},
{"label":"USD","date":"2026-04-23","price":97.2e-6}],
"greenText":[
{"label":"0.000010599","date":"2020-01-08","price":97.35e-6},
{"label":"0.000011915","date":"2020-05-30","price":97.35e-6},
{"label":"0.000010572","date":"2020-10-12","price":97.35e-6},
{"label":"0.000011094","date":"2021-03-01","price":97.35e-6}],
"brandText":[{"label":"TradingView","date":"2019-06-06","price":-15.3e-6}],
"brandMark":[{"date":"2019-05-16","price":-15.1e-6}]
},
"encoding":{
"x":{"field":"date","type":"temporal","title":null,"scale":{"type":"utc","domain":["2019-05-04","2026-10-26"],"nice":false},
"axis":{"orient":"bottom","offset":-37,"values":["2021-01-01","2021-07-02","2022-01-01","2022-07-02","2023-01-02","2023-07-03","2024-01-01","2024-07-01","2025-01-08","2025-07-09","2026-01-08"],"labelExpr":"utcmonth(datum.value)==0 ? utcFormat(datum.value,'%Y') : 'Jul'","labelFlush":false,"labelOverlap":false,"labelBound":false,"domain":false,"ticks":false,"grid":false,"labelPadding":0,"labelBaseline":"middle","labelFont":"Inter","labelFontSize":32,"labelColor":"#131722","labelFontWeight":{"condition":{"test":"utcmonth(datum.value)==0","value":"bold"},"value":"normal"}}},
"y":{"field":"price","type":"quantitative","title":null,"scale":{"domain":[-13.07e-6,99.28e-6],"nice":false,"zero":false},
"axis":{"orient":"right","offset":-144,"values":[-5e-6,0,5e-6,10e-6,15e-6,20e-6,25e-6,30e-6,35e-6,40e-6,45e-6,50e-6,55e-6,60e-6,65e-6,70e-6,75e-6,80e-6,85e-6,90e-6,95e-6],"format":".9f","labelOverlap":false,"labelFlush":false,"labelBound":false,"labelLimit":600,"domain":false,"ticks":false,"grid":false,"labelPadding":0,"labelAlign":"center","labelBaseline":"middle","labelFont":"Inter","labelFontSize":32,"labelColor":"#131722"}}
},
"layer":[
{"data":{"name":"lastPrice"},"mark":{"type":"rule","color":"#2962FF","strokeWidth":2.5,"strokeDash":[2,4]},"encoding":{"x2":{"field":"date2"}}},
{"data":{"name":"candles"},"mark":{"type":"rule","strokeWidth":2},"encoding":{"y":{"field":"low","type":"quantitative"},"y2":{"field":"high"},"color":{"condition":{"test":"datum.close>=datum.open","value":"#089981"},"value":"#F23645"}}},
{"data":{"name":"candles"},"transform":[{"filter":"datum.close<datum.open"}],"mark":{"type":"bar","size":6,"fill":"#F23645","stroke":"#F23645","strokeWidth":2},"encoding":{"y":{"field":"open","type":"quantitative"},"y2":{"field":"close"}}},
{"data":{"name":"candles"},"transform":[{"filter":"datum.close>=datum.open"}],"mark":{"type":"bar","size":6,"fill":"#2962FF","stroke":"#089981","strokeWidth":2},"encoding":{"y":{"field":"open","type":"quantitative"},"y2":{"field":"close"}}},
{"data":{"name":"trend"},"mark":{"type":"rule","color":"#2962FF","strokeWidth":4.5,"strokeCap":"round"},"encoding":{"x2":{"field":"date2"},"y2":{"field":"price2"}}},
{"data":{"name":"levels"},"mark":{"type":"rule","color":"#F23645","strokeWidth":2},"encoding":{"x2":{"field":"date2"}}},
{"data":{"name":"legs"},"mark":{"type":"rule","color":"#000000","opacity":0.65,"strokeWidth":2.2},"encoding":{"x2":{"field":"date2"},"y2":{"field":"price2"}}},
{"data":{"name":"ratioLines"},"mark":{"type":"rule","color":"#000000","opacity":0.65,"strokeWidth":2,"strokeDash":[2,4]},"encoding":{"x2":{"field":"date2"},"y2":{"field":"price2"}}},
{"data":{"name":"pointLabels"},"mark":{"type":"bar","size":33,"fill":"#000000","opacity":0.65,"cornerRadius":8},"encoding":{"y":{"field":"top","type":"quantitative"},"y2":{"field":"bottom"}}},
{"data":{"name":"ratioLabels"},"mark":{"type":"bar","size":84,"fill":"#000000","opacity":0.65,"cornerRadius":8},"encoding":{"y":{"field":"top","type":"quantitative"},"y2":{"field":"bottom"}}},
{"data":{"name":"pointLabels"},"mark":{"type":"text","color":"#FFFFFF","font":"Inter","fontSize":28,"align":"center","baseline":"middle"},"encoding":{"text":{"field":"label"}}},
{"data":{"name":"ratioLabels"},"mark":{"type":"text","color":"#FFFFFF","font":"Inter","fontSize":27,"align":"center","baseline":"middle"},"encoding":{"text":{"field":"label"}}},
{"data":{"name":"priceTags"},"mark":{"type":"rect","fill":"#F23645","cornerRadius":5},"encoding":{"x2":{"field":"date2"},"y2":{"field":"price2"}}},
{"data":{"name":"priceTags"},"mark":{"type":"text","color":"#FFFFFF","font":"Inter","fontSize":32,"align":"center","baseline":"middle"},"encoding":{"x":{"field":"mid","type":"temporal"},"y":{"field":"value","type":"quantitative"},"text":{"field":"label"}}},
{"data":{"name":"usdCover"},"mark":{"type":"rect","fill":"#FFFFFF"},"encoding":{"x2":{"field":"date2"},"y2":{"field":"price2"}}},
{"data":{"name":"usdBox"},"mark":{"type":"rect","fill":"#FFFFFF","stroke":"#F0F3FA","strokeWidth":2,"cornerRadius":10},"encoding":{"x2":{"field":"date2"},"y2":{"field":"price2"}}},
{"data":{"name":"darkText"},"mark":{"type":"text","color":"#131722","font":"Inter","fontSize":23.5,"align":"left","baseline":"middle"},"encoding":{"text":{"field":"label"}}},
{"data":{"name":"greenText"},"mark":{"type":"text","color":"#089981","font":"Inter","fontSize":23.5,"align":"left","baseline":"middle"},"encoding":{"text":{"field":"label"}}},
{"data":{"name":"brandText"},"mark":{"type":"text","color":"#131722","font":"Inter","fontSize":25,"align":"left","baseline":"middle"},"encoding":{"text":{"field":"label"}}},
{"data":{"name":"brandMark"},"mark":{"type":"point","filled":true,"color":"#131722","opacity":1,"size":1600,"shape":"M-1,-0.5 H-0.2 V0.5 H-0.6 V-0.1 H-1 Z M-0.15,-0.28 a0.2,0.2 0 1,0 0.4,0 a0.2,0.2 0 1,0 -0.4,0 Z M0.5,-0.5 H1 L0.55,0.5 H0.05 Z"}}
]
}
